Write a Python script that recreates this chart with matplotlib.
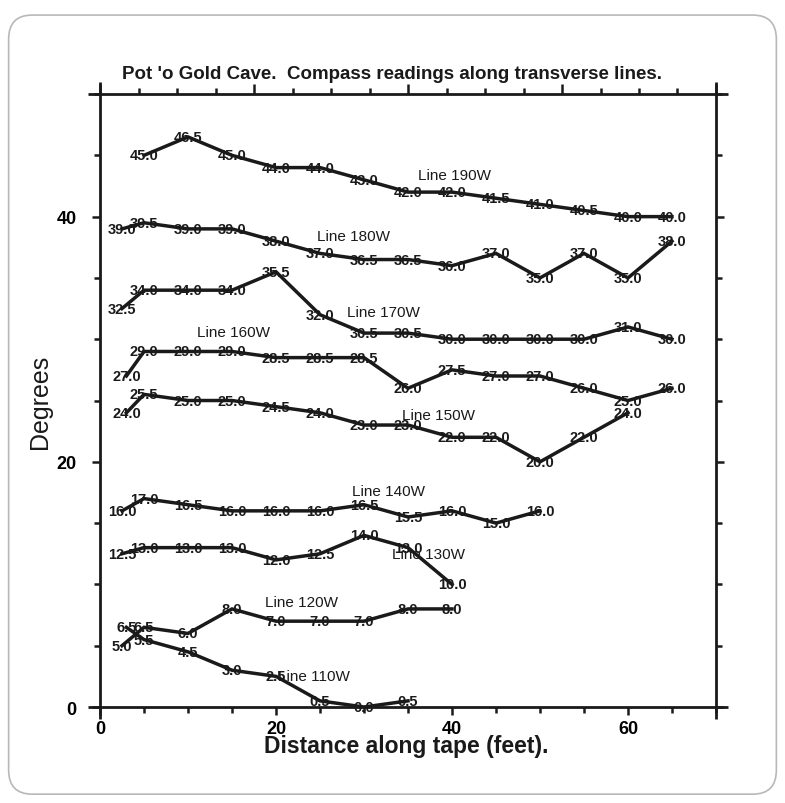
import matplotlib
matplotlib.use("Agg")
import matplotlib.pyplot as plt
from matplotlib.ticker import MultipleLocator, NullFormatter
from matplotlib.patches import FancyBboxPatch

plt.rcParams['font.family'] = ['Liberation Sans', 'DejaVu Sans']

# readings along each transverse line (distance in feet, degrees)
x190 = [5, 10, 15, 20, 25, 30, 35, 40, 45, 50, 55, 60, 65]
y190 = [45.0, 46.5, 45.0, 44.0, 44.0, 43.0, 42.0, 42.0, 41.5, 41.0, 40.5, 40.0, 40.0]
x180 = [2.5, 5, 10, 15, 20, 25, 30, 35, 40, 45, 50, 55, 60, 65]
y180 = [39.0, 39.5, 39.0, 39.0, 38.0, 37.0, 36.5, 36.5, 36.0, 37.0, 35.0, 37.0, 35.0, 38.0]
x170 = [2.5, 5, 10, 15, 20, 25, 30, 35, 40, 45, 50, 55, 60, 65]
y170 = [32.5, 34.0, 34.0, 34.0, 35.5, 32.0, 30.5, 30.5, 30.0, 30.0, 30.0, 30.0, 31.0, 30.0]
x160 = [3, 5, 10, 15, 20, 25, 30, 35, 40, 45, 50, 55, 60, 65]
y160 = [27.0, 29.0, 29.0, 29.0, 28.5, 28.5, 28.5, 26.0, 27.5, 27.0, 27.0, 26.0, 25.0, 26.0]
x150 = [3, 5, 10, 15, 20, 25, 30, 35, 40, 45, 50, 55, 60]
y150 = [24.0, 25.5, 25.0, 25.0, 24.5, 24.0, 23.0, 23.0, 22.0, 22.0, 20.0, 22.0, 24.0]
x140 = [2.5, 5, 10, 15, 20, 25, 30, 35, 40, 45, 50]
y140 = [16.0, 17.0, 16.5, 16.0, 16.0, 16.0, 16.5, 15.5, 16.0, 15.0, 16.0]
x130 = [2.5, 5, 10, 15, 20, 25, 30, 35, 40]
y130 = [12.5, 13.0, 13.0, 13.0, 12.0, 12.5, 14.0, 13.0, 10.0]
x120 = [2.5, 5, 10, 15, 20, 25, 30, 35, 40]
y120 = [5.0, 6.5, 6.0, 8.0, 7.0, 7.0, 7.0, 8.0, 8.0]
x110 = [3, 5, 10, 15, 20, 25, 30, 35]
y110 = [6.5, 5.5, 4.5, 3.0, 2.5, 0.5, 0.0, 0.5]

line_names = ['Line 190W', 'Line 180W', 'Line 170W', 'Line 160W', 'Line 150W',
              'Line 140W', 'Line 130W', 'Line 120W', 'Line 110W']
name_x = [36.1, 24.7, 28.1, 11.0, 34.3, 28.6, 33.2, 18.8, 20.2]
name_y = [43.4, 38.4, 32.2, 30.6, 23.8, 17.6, 12.5, 8.6, 2.5]

lines = [(x190, y190), (x180, y180), (x170, y170), (x160, y160), (x150, y150),
         (x140, y140), (x130, y130), (x120, y120), (x110, y110)]

fig = plt.figure(figsize=(7.85, 8.04), dpi=100)
fig.patches.append(FancyBboxPatch((0.011, 0.011), 0.978, 0.969,
                                  boxstyle="round,pad=0,rounding_size=0.03",
                                  transform=fig.transFigure, fill=False,
                                  edgecolor='#b8b8b8', linewidth=1.2))

ax = fig.add_axes([0.1274, 0.1194, 0.7847, 0.7624])
ink = '#1a1a1a'

for (xs, ys) in lines:
    ax.plot(xs, ys, color=ink, lw=2.5, solid_joinstyle='miter', zorder=2)
    for xv, yv in zip(xs, ys):
        ax.text(xv, yv, f'{yv:.1f}', ha='center', va='center', fontsize=10.5,
                fontweight='bold', color=ink, zorder=3)

for name, nx, ny in zip(line_names, name_x, name_y):
    ax.text(nx, ny, name, ha='left', va='center', fontsize=11, color=ink, zorder=4)

ax.set_xlim(0, 70)
ax.set_ylim(0, 50)

for s in ax.spines.values():
    s.set_visible(False)
# frame lines that run a little past the corners
ext = 0.02
for xs_, ys_ in [([-ext, 1 + ext], [0, 0]), ([-ext, 1 + ext], [1, 1]),
                 ([0, 0], [-ext, 1 + ext]), ([1, 1], [-ext, 1 + ext])]:
    ax.plot(xs_, ys_, transform=ax.transAxes, color=ink, lw=2.0, clip_on=False,
            solid_capstyle='butt')

ax.xaxis.set_major_locator(MultipleLocator(20))
ax.xaxis.set_minor_locator(MultipleLocator(5))
ax.yaxis.set_major_locator(MultipleLocator(20))
ax.yaxis.set_minor_locator(MultipleLocator(5))
ax.tick_params(which='both', direction='out', width=1.8, color=ink,
               left=True, right=True, bottom=True, top=False)
ax.tick_params(which='major', length=6, labelsize=13)
ax.tick_params(which='minor', length=4.5)
ax.tick_params(axis='x', which='major', pad=3)
ax.tick_params(axis='y', which='major', pad=11)
for lab in ax.get_xticklabels() + ax.get_yticklabels():
    lab.set_fontweight('bold')

# top axis has its own tick spacing
top = ax.twiny()
top.set_xlim(0, 70)
for s in top.spines.values():
    s.set_visible(False)
top.xaxis.set_major_locator(MultipleLocator(17.5))
top.xaxis.set_minor_locator(MultipleLocator(4.375))
top.xaxis.set_major_formatter(NullFormatter())
top.tick_params(which='both', direction='out', width=1.8, color=ink)
top.tick_params(which='major', length=7.5)
top.tick_params(which='minor', length=4.5)

fig.text(0.500, 0.907, "Pot 'o Gold Cave.  Compass readings along transverse lines.",
         ha='center', va='center', fontsize=13.5, fontweight='bold', color=ink)
fig.text(0.051, 0.50, 'Degrees', rotation=90, ha='center', va='center',
         fontsize=18, color=ink)
fig.text(0.518, 0.071, 'Distance along tape (feet).', ha='center', va='center',
         fontsize=16.5, fontweight='bold', color=ink)

fig.savefig('out.png', dpi=100)
